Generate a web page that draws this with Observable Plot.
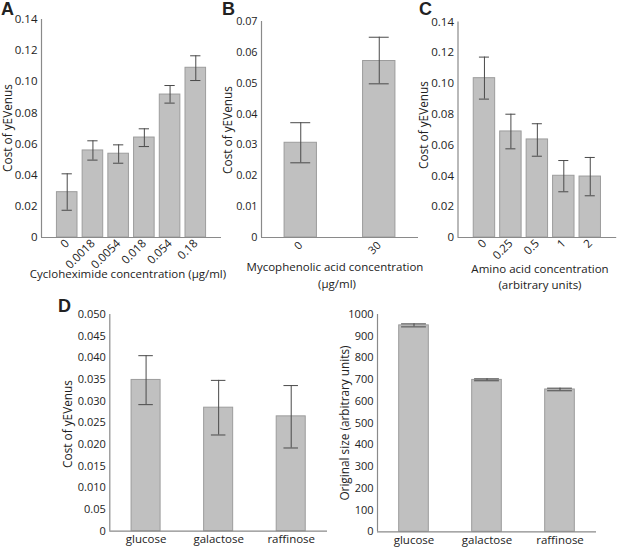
<!DOCTYPE html>
<html><head><meta charset="utf-8">
<script src="https://cdn.jsdelivr.net/npm/d3@7"></script>
<script src="https://cdn.jsdelivr.net/npm/@observablehq/plot@0.6"></script>
<style>
body{margin:0;background:#fff;}
#c{position:relative;width:617px;height:548px;font-family:"Open Sans",sans-serif;color:#222;overflow:hidden;}
#c svg{position:absolute;overflow:visible;}
.t{position:absolute;font-size:11.5px;white-space:nowrap;line-height:1;transform:translateX(-50%);}
.lbl{position:absolute;font:bold 18px Arial,"Liberation Sans",sans-serif;line-height:1;}
.yt{position:absolute;font-size:11.8px;white-space:nowrap;line-height:1;transform:translate(-50%,-50%) rotate(-90deg);}
</style></head><body><div id="c"></div>
<script>
// ---- data ----
const cycloCats = ["0","0.0018","0.0054","0.018","0.054","0.18"];
const cycloMean = [0.0291,0.0559,0.0538,0.0642,0.0918,0.1090];
const cycloLow  = [0.0175,0.0497,0.0477,0.0584,0.0863,0.1008];
const cycloHigh = [0.0409,0.0621,0.0595,0.0698,0.0976,0.1167];

const mycoCats = ["0","30"];
const mycoMean = [0.0307,0.0572];
const mycoLow  = [0.0242,0.0498];
const mycoHigh = [0.0372,0.0649];

const aminoCats = ["0","0.25","0.5","1","2"];
const aminoMean = [0.1035,0.0689,0.0637,0.0401,0.0396];
const aminoLow  = [0.0899,0.0576,0.0528,0.0297,0.0271];
const aminoHigh = [0.1172,0.0801,0.0739,0.0500,0.0520];

const sugarCats = ["glucose","galactose","raffinose"];
const sugarCostMean = [0.0349,0.0285,0.0265];
const sugarCostLow  = [0.0292,0.0222,0.0192];
const sugarCostHigh = [0.0405,0.0348,0.0336];
const sugarSizeMean = [950,699,655];
const sugarSizeLow  = [943,695,649];
const sugarSizeHigh = [957,704,661];

const ticks014 = [0,0.02,0.04,0.06,0.08,0.10,0.12,0.14];
const labels014 = ["0","0.02","0.04","0.06","0.08","0.10","0.12","0.14"];
const ticks007 = [0,0.01,0.02,0.03,0.04,0.05,0.06,0.07];
const labels007 = ["0","0.01","0.02","0.03","0.04","0.05","0.06","0.07"];
const ticks005 = [0,0.005,0.010,0.015,0.020,0.025,0.030,0.035,0.040,0.045,0.050];
const labels005 = ["0","0.05","0.010","0.015","0.020","0.025","0.030","0.035","0.040","0.045","0.050"];
const ticks1000 = [0,100,200,300,400,500,600,700,800,900,1000];
const labels1000 = ["0","100","200","300","400","500","600","700","800","900","1000"];

const root = document.getElementById("c");

function panel(o){
  const data = o.cats.map((c,i)=>({i:i+1,c,m:o.mean[i],lo:o.low[i],hi:o.high[i]}));
  const yMap = new Map(o.yTicks.map((t,k)=>[t,o.yLabels[k]]));
  const p = Plot.plot({
    width:o.width, height:o.height,
    marginLeft:o.mL, marginRight:o.mR, marginTop:o.mT, marginBottom:o.mB,
    style:{fontFamily:"'Open Sans',sans-serif", fontSize:o.fs+"px", color:"#222", background:"transparent", overflow:"visible"},
    x:{domain:o.xDomain, label:null},
    y:{domain:o.yDomain, label:null},
    marks:[
      Plot.rectY(data,{x1:d=>d.i-o.barHalf, x2:d=>d.i+o.barHalf, y1:0, y2:"m", fill:"#c0c0c0", stroke:"#9c9c9c", strokeWidth:1}),
      Plot.ruleX(data,{x:"i", y1:"lo", y2:"hi", stroke:"#4a4a4a", strokeWidth:1}),
      Plot.ruleY(data,{x1:d=>d.i-o.capHalf, x2:d=>d.i+o.capHalf, y:"lo", stroke:"#4a4a4a", strokeWidth:1}),
      Plot.ruleY(data,{x1:d=>d.i-o.capHalf, x2:d=>d.i+o.capHalf, y:"hi", stroke:"#4a4a4a", strokeWidth:1}),
      Plot.ruleY([o.yDomain[0]],{stroke:"#8a8a8a", strokeWidth:1.2}),
      Plot.ruleX([o.xDomain[0]],{stroke:"#8a8a8a", strokeWidth:1.2}),
      Plot.axisY({ticks:o.yTicks, tickFormat:d=>yMap.get(d), tickSize:0, tickPadding:4, label:null, fill:"#222"}),
      Plot.axisX({ticks:data.map(d=>d.i), tickFormat:d=>o.cats[d-1], tickSize:0, tickPadding:o.xPad, tickRotate:o.rotate, label:null, fill:"#222", fontSize:o.xfs})
    ]
  });
  p.style.left = o.left+"px";
  p.style.top = o.top+"px";
  root.appendChild(p);
}

panel({left:0,top:0,width:225,height:290,mL:41,mR:4,mT:19,mB:53,xDomain:[0,7],yDomain:[0,0.14],
  yTicks:ticks014,yLabels:labels014,cats:cycloCats,mean:cycloMean,low:cycloLow,high:cycloHigh,
  barHalf:0.4,capHalf:0.2,rotate:-45,xPad:4,fs:11.5,xfs:11.5});
panel({left:225,top:0,width:195,height:290,mL:36,mR:2,mT:21,mB:53,xDomain:[0.5,2.5],yDomain:[0,0.07],
  yTicks:ticks007,yLabels:labels007,cats:mycoCats,mean:mycoMean,low:mycoLow,high:mycoHigh,
  barHalf:0.206,capHalf:0.127,rotate:-45,xPad:6,fs:10.8,xfs:11});
panel({left:420,top:0,width:197,height:290,mL:37.5,mR:0.8,mT:21.5,mB:53,xDomain:[0,6],yDomain:[0,0.14],
  yTicks:ticks014,yLabels:labels014,cats:aminoCats,mean:aminoMean,low:aminoLow,high:aminoHigh,
  barHalf:0.405,capHalf:0.19,rotate:-45,xPad:4,fs:11.5,xfs:11.5});
panel({left:0,top:290,width:330,height:258,mL:109.3,mR:3,mT:24,mB:17.3,xDomain:[0.5,3.5],yDomain:[0,0.05],
  yTicks:ticks005,yLabels:labels005,cats:sugarCats,mean:sugarCostMean,low:sugarCostLow,high:sugarCostHigh,
  barHalf:0.2,capHalf:0.1,rotate:0,xPad:4,fs:11,xfs:11.5});
panel({left:330,top:290,width:287,height:258,mL:47,mR:21,mT:24,mB:16.7,xDomain:[0.5,3.5],yDomain:[0,1000],
  yTicks:ticks1000,yLabels:labels1000,cats:sugarCats,mean:sugarSizeMean,low:sugarSizeLow,high:sugarSizeHigh,
  barHalf:0.203,capHalf:0.17,rotate:0,xPad:4,fs:11,xfs:11.5});

function addText(cls, txt, left, top){
  const d = document.createElement("div");
  d.className = cls; d.textContent = txt;
  d.style.left = left+"px"; d.style.top = top+"px";
  root.appendChild(d);
}
addText("lbl","A",1,0);
addText("lbl","B",222,0);
addText("lbl","C",419,0);
addText("lbl","D",58,297);
addText("yt","Cost of yEVenus",8,128);
addText("yt","Cost of yEVenus",228,130);
addText("yt","Cost of yEVenus",424,125);
addText("yt","Cost of yEVenus",68,424);
addText("yt","Original size (arbitrary units)",345,423);
addText("t","Cycloheximide concentration (μg/ml)",128,268);
addText("t","Mycophenolic acid concentration",335,261);
addText("t","(μg/ml)",337,278);
addText("t","Amino acid concentration",540,263);
addText("t","(arbitrary units)",540,279);
</script></body></html>
